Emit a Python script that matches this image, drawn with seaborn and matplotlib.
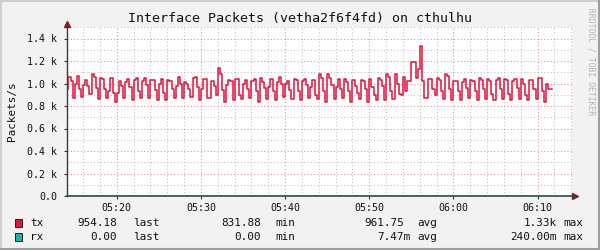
import matplotlib
matplotlib.use("Agg")
import matplotlib.pyplot as plt
import matplotlib.dates as mdates
from matplotlib.lines import Line2D
from matplotlib.patches import Rectangle
import numpy as np
import pandas as pd
import seaborn as sns

# ---------------- data ----------------
title = "Interface Packets (vetha2f6f4fd) on cthulhu"
ylabel = "Packets/s"
watermark = "RRDTOOL / TOBI OETIKER"
start_time = "2024-01-01 05:14:00"
step_seconds = 15

# tx packets/s in thousands, one value per 15 s step
tx_k = [
    0.95, 1.06, 1.02, 0.87, 1.00, 1.07, 0.95, 0.88,
    0.99, 1.03, 0.98, 0.91, 1.08, 1.06, 0.96, 0.86,
    1.05, 1.04, 0.95, 0.87, 0.93, 1.05, 0.92, 0.84,
    0.92, 1.02, 0.98, 0.87, 1.01, 1.04, 0.97, 0.85,
    1.03, 1.05, 0.93, 0.87, 1.02, 1.05, 0.99, 0.87,
    1.03, 1.03, 0.94, 0.85, 1.00, 1.04, 0.92, 0.85,
    1.03, 1.02, 0.95, 0.87, 0.98, 1.06, 1.00, 0.87,
    1.01, 1.00, 0.95, 0.88, 1.05, 1.06, 0.97, 0.85,
    0.95, 1.04, 1.04, 0.87, 0.87, 1.02, 0.98, 0.90,
    1.14, 1.08, 0.94, 0.84, 0.99, 1.03, 1.02, 0.85,
    1.04, 1.04, 0.90, 0.86, 1.00, 1.03, 0.95, 0.87,
    1.02, 1.04, 0.93, 0.84, 1.05, 1.01, 0.96, 0.86,
    0.97, 1.04, 0.93, 0.85, 1.01, 1.06, 1.00, 0.88,
    1.00, 1.02, 0.94, 0.86, 1.04, 1.03, 0.93, 0.85,
    1.02, 1.04, 0.99, 0.87, 0.97, 1.03, 0.90, 0.86,
    1.08, 1.05, 0.93, 0.84, 1.08, 1.05, 0.99, 0.86,
    0.97, 1.04, 0.95, 0.87, 1.04, 1.01, 0.93, 0.84,
    1.03, 0.98, 0.92, 0.86, 1.03, 1.02, 0.95, 0.84,
    1.04, 0.97, 0.90, 0.85, 1.05, 1.03, 0.98, 0.85,
    1.08, 1.06, 0.93, 0.86, 1.08, 1.00, 0.91, 0.90,
    1.06, 0.93, 1.02, 1.02, 1.19, 1.19, 1.05, 1.13,
    1.33, 1.02, 0.87, 0.87, 1.04, 1.04, 0.95, 0.90,
    1.05, 1.03, 0.93, 0.86, 1.08, 1.07, 0.95, 0.85,
    1.02, 1.02, 0.93, 0.85, 1.01, 1.04, 0.96, 0.87,
    1.03, 1.02, 0.93, 0.85, 1.05, 1.03, 0.95, 0.86,
    1.04, 1.02, 0.91, 0.85, 1.03, 1.05, 0.95, 0.86,
    1.04, 1.03, 0.91, 0.85, 1.02, 1.04, 0.96, 0.86,
    1.04, 1.00, 0.90, 0.85, 1.03, 1.03, 0.95, 0.86,
    1.05, 1.05, 0.93, 0.84,
    1.00, 0.95, 0.95,
]

# rx packets/s in thousands (practically zero)
rx_k = [
    0, 0, 0, 0, 0, 0, 0, 0, 0, 0, 0.00024, 0, 0, 0, 0, 0, 0, 0, 0, 0, 0,
    0, 0, 0, 0, 0, 0, 0, 0, 0, 0, 0, 0, 0, 0, 0, 0, 0.00020, 0, 0, 0, 0,
    0, 0, 0, 0, 0, 0, 0, 0, 0, 0, 0, 0, 0, 0, 0, 0, 0, 0, 0, 0, 0,
    0, 0, 0, 0, 0, 0.00024, 0, 0, 0, 0, 0, 0, 0, 0, 0, 0, 0, 0, 0, 0, 0,
    0, 0, 0, 0, 0, 0, 0, 0, 0, 0, 0, 0, 0, 0.00018, 0, 0, 0, 0, 0, 0, 0,
    0, 0, 0, 0, 0, 0, 0, 0, 0, 0, 0, 0, 0, 0, 0, 0, 0, 0, 0, 0, 0,
    0, 0, 0, 0, 0.00022, 0, 0, 0, 0, 0, 0, 0, 0, 0, 0, 0, 0, 0, 0, 0, 0,
    0, 0, 0, 0, 0, 0, 0, 0, 0, 0, 0, 0, 0, 0, 0, 0, 0.00024, 0, 0, 0, 0,
    0, 0, 0, 0, 0, 0, 0, 0, 0, 0, 0, 0, 0, 0, 0, 0, 0, 0, 0, 0, 0,
    0, 0, 0, 0, 0, 0, 0, 0.00021, 0, 0, 0, 0, 0, 0, 0, 0, 0, 0, 0, 0, 0,
    0, 0, 0, 0, 0, 0, 0, 0, 0, 0, 0, 0, 0, 0.00020, 0, 0, 0, 0, 0, 0, 0,
]

y_ticks = [0.0, 0.2, 0.4, 0.6, 0.8, 1.0, 1.2, 1.4]
y_tick_labels = ["0.0", "0.2 k", "0.4 k", "0.6 k", "0.8 k", "1.0 k", "1.2 k", "1.4 k"]

legend_names = ["tx", "rx"]
legend_colors = ["#E0143C", "#1EB0A4"]
legend_last = ["954.18", "0.00"]
legend_min = ["831.88", "0.00"]
legend_avg = ["961.75", "7.47m"]
legend_max = ["1.33k", "240.00m"]

# ---------------- frame ----------------
W, H = 600, 250
fig = plt.figure(figsize=(W / 100, H / 100), dpi=100)
fig.patch.set_facecolor("#F2F2F2")

def fx(px):
    return px / W

def fy(py):
    return 1 - py / H

L, R, T, B = 67, 572, 27.25, 196
ax = fig.add_axes([fx(L), fy(B), fx(R) - fx(L), (B - T) / H])
ax.set_facecolor("white")

n = len(tx_k)
times = pd.date_range(start_time, periods=n + 1, freq=f"{step_seconds}s")
df = pd.DataFrame({
    "time": times,
    "tx": tx_k + [tx_k[-1]],
    "rx": rx_k + [rx_k[-1]],
})

sns.lineplot(data=df, x="time", y="rx", ax=ax, color=legend_colors[1],
             linewidth=1.0, drawstyle="steps-post", zorder=3)
sns.lineplot(data=df, x="time", y="tx", ax=ax, color=legend_colors[0],
             linewidth=1.1, drawstyle="steps-post", zorder=4)

xmin = pd.Timestamp("2024-01-01 05:14:05")
xmax = pd.Timestamp("2024-01-01 06:14:05")
ax.set_xlim(xmin, xmax)
ax.set_ylim(0, 1.5)

ax.xaxis.set_major_locator(mdates.MinuteLocator(byminute=[0, 10, 20, 30, 40, 50]))
ax.xaxis.set_minor_locator(mdates.MinuteLocator(byminute=list(range(0, 60, 2))))
ax.xaxis.set_major_formatter(mdates.DateFormatter("%H:%M"))
ax.set_yticks(y_ticks)
ax.set_yticklabels(y_tick_labels)
ax.set_yticks(np.arange(0, 1.51, 0.1), minor=True)

mono = "DejaVu Sans Mono"
for lab in ax.get_xticklabels() + ax.get_yticklabels():
    lab.set_fontfamily(mono)
    lab.set_fontsize(7.2)
    lab.set_color("#111111")

ax.tick_params(axis="y", which="major", length=2, width=0.8, color="#333333", pad=5)
ax.tick_params(axis="x", which="major", length=2, width=0.8, color="#333333", pad=3)
ax.tick_params(which="minor", length=0)

ax.grid(which="minor", color="#B0B0B0", linestyle=(0, (1, 2)), linewidth=0.8, alpha=0.75)
ax.grid(which="major", color="#E07070", linestyle=(0, (1, 2)), linewidth=0.8, alpha=0.75)
ax.set_axisbelow(True)

ax.set_xlabel("")
ax.set_ylabel("")
for s in ax.spines.values():
    s.set_visible(False)

# axes with arrows
fig.add_artist(Line2D([fx(L), fx(L)], [fy(B), fy(23)], color="#3A3A3A", linewidth=1.0))
fig.add_artist(Line2D([fx(L), fx(575)], [fy(B), fy(B)], color="#2C4D43", linewidth=1.2, zorder=5))
fig.add_artist(Line2D([fx(L)], [fy(23.5)], marker="^", markersize=5, color="#7F1F1F", linestyle="none"))
fig.add_artist(Line2D([fx(574.5)], [fy(B)], marker=">", markersize=5, color="#7F1F1F", linestyle="none"))

# titles
fig.text(fx(300), fy(18.5), title, family=mono, fontsize=9.6, ha="center", va="center", color="#111111")
fig.text(fx(12), fy((T + B) / 2), ylabel, family=mono, fontsize=7.9, rotation=90,
         ha="center", va="center", color="#111111")
fig.text(fx(591), fy(8), watermark, family=mono, fontsize=5.8, rotation=270,
         ha="center", va="top", color="#B4B4B4")

# legend
rows_y = [222.5, 236.5]
for i in range(2):
    y = rows_y[i]
    fig.add_artist(Rectangle((fx(14.5), fy(y + 4)), 7 / W, 8 / H, transform=fig.transFigure,
                             facecolor=legend_colors[i], edgecolor="#222222", linewidth=0.7))
    kw = dict(family=mono, fontsize=7.9, va="center", color="#111111")
    fig.text(fx(30.5), fy(y), legend_names[i], ha="left", **kw)
    fig.text(fx(117), fy(y), legend_last[i], ha="right", **kw)
    fig.text(fx(133), fy(y), "last", ha="left", **kw)
    fig.text(fx(261), fy(y), legend_min[i], ha="right", **kw)
    fig.text(fx(275.5), fy(y), "min", ha="left", **kw)
    avg_right = 404.5 if legend_avg[i][-1].isdigit() else 410.5
    fig.text(fx(avg_right), fy(y), legend_avg[i], ha="right", **kw)
    fig.text(fx(417), fy(y), "avg", ha="left", **kw)
    fig.text(fx(557), fy(y), legend_max[i], ha="right", **kw)
    fig.text(fx(563), fy(y), "max", ha="left", **kw)

# 3d border
fig.add_artist(Line2D([0, 1], [fy(0.5), fy(0.5)], color="#CFCFCF", linewidth=1.5))
fig.add_artist(Line2D([fx(0.5), fx(0.5)], [0, 1], color="#CFCFCF", linewidth=1.5))
fig.add_artist(Line2D([0, 1], [fy(249), fy(249)], color="#9E9E9E", linewidth=1.5))
fig.add_artist(Line2D([fx(599), fx(599)], [0, 1], color="#9E9E9E", linewidth=1.5))

fig.savefig("out.png", dpi=100, facecolor=fig.get_facecolor())
